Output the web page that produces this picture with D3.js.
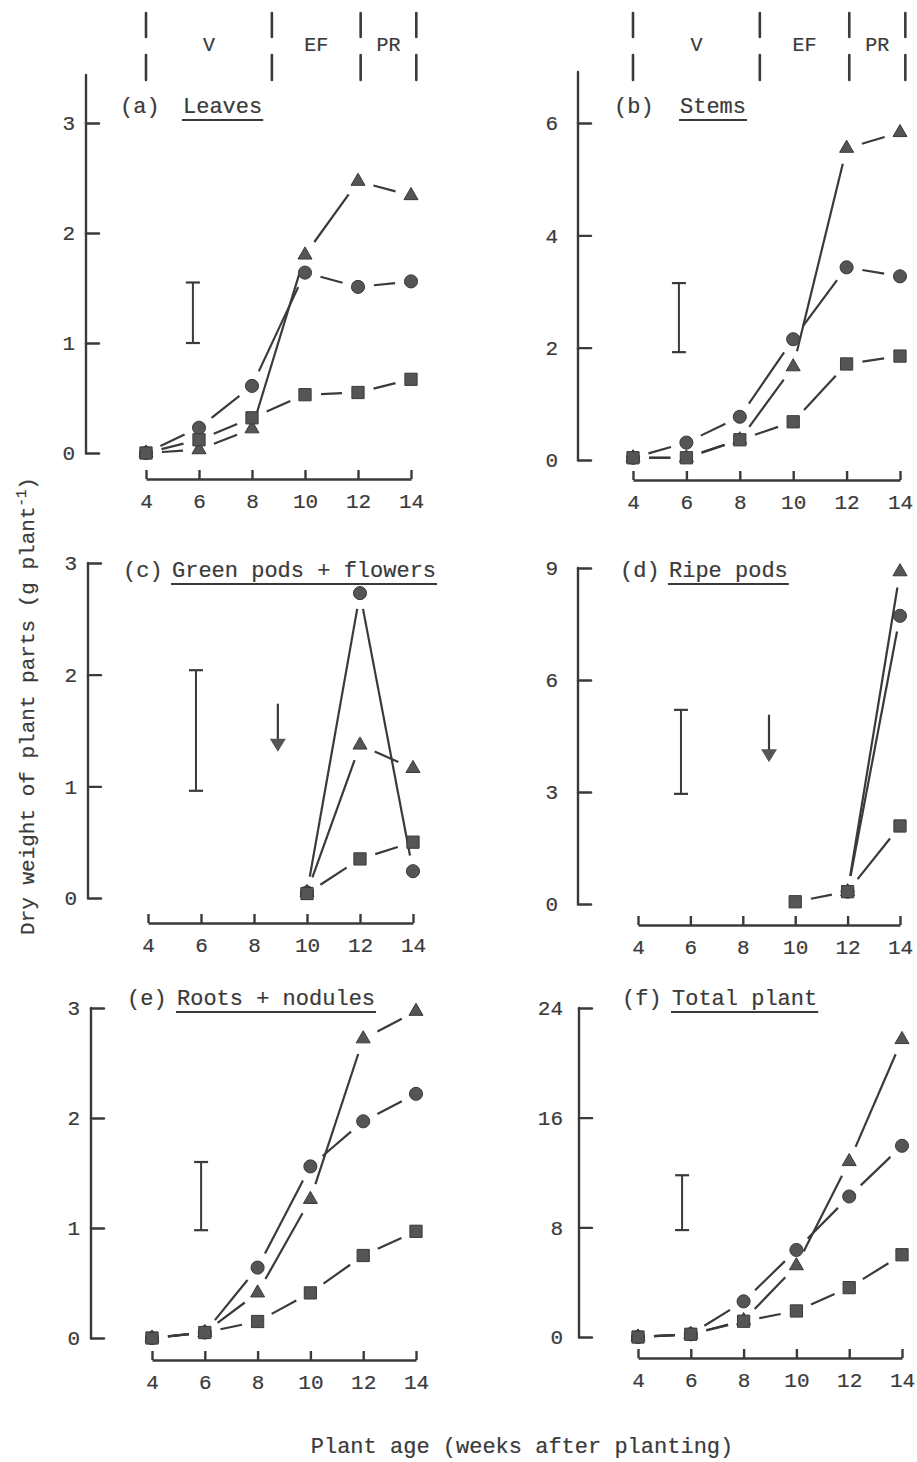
<!DOCTYPE html>
<html>
<head>
<meta charset="utf-8">
<script src="https://cdn.jsdelivr.net/npm/d3@7"></script>
<style>
  html, body { margin: 0; padding: 0; background: #fff; }
  svg text {
    font-family: "Liberation Mono", "DejaVu Sans Mono", monospace;
    fill: #3a3a3a;
    stroke: #3a3a3a;
    stroke-width: 0.2;
  }
</style>
</head>
<body>
<svg id="chart" width="917" height="1462"></svg>
<script>
// ---- data ----
const weeks = [4, 6, 8, 10, 12, 14];
const weekTicks = [4, 6, 8, 10, 12, 14];

// growth phases shown above panels (a) and (b)
const phaseNames = ["V", "EF", "PR"];
const phaseBounds = [4, 8.75, 12.1, 14.2];

// (a) Leaves
const leavesTri  = [0, 0.03, 0.22, 1.80, 2.47, 2.34];
const leavesCirc = [0, 0.23, 0.61, 1.64, 1.51, 1.56];
const leavesSq   = [0, 0.12, 0.32, 0.53, 0.55, 0.67];

// (b) Stems
const stemsTri  = [0.04, 0.04, 0.36, 1.66, 5.55, 5.83];
const stemsCirc = [0.04, 0.31, 0.77, 2.15, 3.43, 3.27];
const stemsSq   = [0.04, 0.04, 0.36, 0.68, 1.71, 1.85];

// (c) Green pods + flowers
const greenTri  = [null, null, null, 0.05, 1.37, 1.16];
const greenCirc = [null, null, null, 0.05, 2.73, 0.24];
const greenSq   = [null, null, null, 0.04, 0.35, 0.50];

// (d) Ripe pods
const ripeTri  = [null, null, null, null, 0.33, 8.90];
const ripeCirc = [null, null, null, null, 0.33, 7.72];
const ripeSq   = [null, null, null, 0.06, 0.33, 2.09];

// (e) Roots + nodules
const rootsTri  = [0, 0.05, 0.41, 1.26, 2.72, 2.97];
const rootsCirc = [0, 0.05, 0.64, 1.56, 1.97, 2.22];
const rootsSq   = [0, 0.05, 0.15, 0.41, 0.75, 0.97];

// (f) Total plant
const totalTri  = [0, 0.2, 1.2, 5.2, 12.8, 21.7];
const totalCirc = [0, 0.2, 2.6, 6.35, 10.25, 13.95];
const totalSq   = [0, 0.2, 1.15, 1.9, 3.6, 6.0];

// y ticks per panel
const leavesTicks = [0, 1, 2, 3];
const stemsTicks  = [0, 2, 4, 6];
const greenTicks  = [0, 1, 2, 3];
const ripeTicks   = [0, 3, 6, 9];
const rootsTicks  = [0, 1, 2, 3];
const totalTicks  = [0, 8, 16, 24];

// LSD bars [week position, low, high]
const leavesLsd = [5.77, 1.0, 1.55];
const stemsLsd  = [5.72, 1.92, 3.15];
const greenLsd  = [5.81, 0.96, 2.04];
const ripeLsd   = [5.64, 2.95, 5.2];
const rootsLsd  = [5.86, 0.98, 1.6];
const totalLsd  = [5.67, 7.8, 11.8];

// arrows [week, from, to]
const greenArrow = [8.9, 1.74, 1.31];
const ripeArrow  = [9.0, 5.07, 3.8];

// ---- layout ----
const ink = "#3a3a3a";
const markFill = "#555";

const panels = [
  { tag: "(a)", name: "Leaves", tri: leavesTri, circ: leavesCirc, sq: leavesSq, ticks: leavesTicks, lsd: leavesLsd,
    phases: true, pos: { ax: 86, y0: 453, yTop: 123, top: 75, xy: 479, x4: 146, x14: 411, pad: 11, tagX: 120, nameX: 183, base: 113 } },
  { tag: "(b)", name: "Stems", tri: stemsTri, circ: stemsCirc, sq: stemsSq, ticks: stemsTicks, lsd: stemsLsd,
    phases: true, pos: { ax: 578, y0: 460, yTop: 123, top: 72, xy: 480, x4: 633, x14: 900, pad: 20, tagX: 614, nameX: 680, base: 113 } },
  { tag: "(c)", name: "Green pods + flowers", tri: greenTri, circ: greenCirc, sq: greenSq, ticks: greenTicks, lsd: greenLsd,
    arrow: greenArrow, pos: { ax: 88, y0: 898, yTop: 563, top: 563, xy: 923, x4: 148, x14: 413, pad: 11, tagX: 123, nameX: 172, base: 577 } },
  { tag: "(d)", name: "Ripe pods", tri: ripeTri, circ: ripeCirc, sq: ripeSq, ticks: ripeTicks, lsd: ripeLsd,
    arrow: ripeArrow, pos: { ax: 578, y0: 904, yTop: 568, top: 568, xy: 925, x4: 638, x14: 900, pad: 20, tagX: 620, nameX: 669, base: 577 } },
  { tag: "(e)", name: "Roots + nodules", tri: rootsTri, circ: rootsCirc, sq: rootsSq, ticks: rootsTicks, lsd: rootsLsd,
    pos: { ax: 91, y0: 1338, yTop: 1008, top: 1008, xy: 1360, x4: 152, x14: 416, pad: 11, tagX: 127, nameX: 177, base: 1005 } },
  { tag: "(f)", name: "Total plant", tri: totalTri, circ: totalCirc, sq: totalSq, ticks: totalTicks, lsd: totalLsd,
    pos: { ax: 579, y0: 1337, yTop: 1008, top: 1008, xy: 1358, x4: 638, x14: 902, pad: 16, tagX: 622, nameX: 672, base: 1005 } },
];

const svg = d3.select("#chart");

panels.forEach(drawPanel);

// axis titles
svg.append("text")
  .attr("transform", "translate(34,706) rotate(-90)")
  .attr("text-anchor", "middle")
  .attr("font-size", 21)
  .text("Dry weight of plant parts (g plant")
  .call(t => {
    t.append("tspan").attr("font-size", 14).attr("dy", -8).text("-1");
    t.append("tspan").attr("dy", 8).text(")");
  });

svg.append("text")
  .attr("x", 522)
  .attr("y", 1453)
  .attr("text-anchor", "middle")
  .attr("font-size", 22)
  .text("Plant age (weeks after planting)");

/**
 * one sub-plot
 */
function drawPanel(p) {
  const L = p.pos;
  const yMax = d3.max(p.ticks);
  const x = d3.scaleLinear().domain([4, 14]).range([L.x4, L.x14]);
  const y = d3.scaleLinear().domain([0, yMax]).range([L.y0, L.yTop]);
  const g = svg.append("g");

  // y axis
  g.append("line")
    .attr("x1", L.ax).attr("x2", L.ax)
    .attr("y1", L.top).attr("y2", L.y0)
    .attr("stroke", ink).attr("stroke-width", 2.4).attr("stroke-linecap", "round");

  const gy = g.append("g")
    .attr("transform", `translate(${L.ax},0)`)
    .call(d3.axisLeft(y).tickValues(p.ticks).tickFormat(d3.format("d"))
      .tickSizeInner(-13).tickSizeOuter(0).tickPadding(L.pad));
  gy.select(".domain").remove();
  gy.selectAll(".tick line").attr("stroke", ink).attr("stroke-width", 2.4).attr("stroke-linecap", "round");
  gy.selectAll(".tick text").attr("font-size", 21);

  // x axis
  const gx = g.append("g")
    .attr("transform", `translate(0,${L.xy})`)
    .call(d3.axisBottom(x).tickValues(weekTicks).tickFormat(d3.format("d"))
      .tickSizeInner(-9).tickSizeOuter(0).tickPadding(14));
  gx.select(".domain").attr("stroke", ink).attr("stroke-width", 2.4);
  gx.selectAll(".tick line").attr("stroke", ink).attr("stroke-width", 2.4);
  gx.selectAll(".tick text").attr("font-size", 21);

  // title
  g.append("text").attr("x", L.tagX).attr("y", L.base).attr("font-size", 22).text(p.tag);
  const nm = g.append("text").attr("x", L.nameX).attr("y", L.base).attr("font-size", 22).text(p.name);
  const bb = nm.node().getBBox();
  g.append("line")
    .attr("x1", bb.x - 1).attr("x2", bb.x + bb.width + 1)
    .attr("y1", L.base + 7).attr("y2", L.base + 7)
    .attr("stroke", ink).attr("stroke-width", 2);

  // phase brackets
  if (p.phases) {
    phaseBounds.forEach(w => {
      [[13, 37], [55, 80]].forEach(([a, b]) => {
        g.append("line")
          .attr("x1", x(w)).attr("x2", x(w))
          .attr("y1", a).attr("y2", b)
          .attr("stroke", ink).attr("stroke-width", 2.6).attr("stroke-linecap", "round");
      });
    });
    phaseNames.forEach((n, i) => {
      g.append("text")
        .attr("x", (x(phaseBounds[i]) + x(phaseBounds[i + 1])) / 2)
        .attr("y", 51)
        .attr("text-anchor", "middle")
        .attr("font-size", 20)
        .text(n);
    });
  }

  // LSD bar
  const [lx, lo, hi] = p.lsd;
  g.append("line")
    .attr("x1", x(lx)).attr("x2", x(lx)).attr("y1", y(lo)).attr("y2", y(hi))
    .attr("stroke", ink).attr("stroke-width", 2);
  [lo, hi].forEach(v => {
    g.append("line")
      .attr("x1", x(lx) - 7).attr("x2", x(lx) + 7).attr("y1", y(v)).attr("y2", y(v))
      .attr("stroke", ink).attr("stroke-width", 2.2);
  });

  // arrow
  if (p.arrow) {
    const [ax, from, to] = p.arrow;
    g.append("line")
      .attr("x1", x(ax)).attr("x2", x(ax)).attr("y1", y(from)).attr("y2", y(to) - 8)
      .attr("stroke", ink).attr("stroke-width", 2.2);
    g.append("path")
      .attr("d", `M${x(ax) - 8},${y(to) - 13} L${x(ax) + 8},${y(to) - 13} L${x(ax)},${y(to)} Z`)
      .attr("fill", markFill);
  }

  // series: triangle, circle, square
  const series = [
    { vals: p.tri, sym: d3.symbolTriangle, size: 85 },
    { vals: p.circ, sym: d3.symbolCircle, size: 135 },
    { vals: p.sq, sym: d3.symbolSquare, size: 150 },
  ];

  // connecting lines, broken short of each marker
  series.forEach(s => {
    const pts = weeks.map((w, i) => [w, s.vals[i]]).filter(d => d[1] != null);
    const gap = 16;
    for (let i = 0; i < pts.length - 1; i++) {
      const x1 = x(pts[i][0]), y1 = y(pts[i][1]);
      const x2 = x(pts[i + 1][0]), y2 = y(pts[i + 1][1]);
      const len = Math.hypot(x2 - x1, y2 - y1);
      if (len < gap * 2 + 2) continue;
      const ux = (x2 - x1) / len, uy = (y2 - y1) / len;
      g.append("line")
        .attr("x1", x1 + ux * gap).attr("y1", y1 + uy * gap)
        .attr("x2", x2 - ux * gap).attr("y2", y2 - uy * gap)
        .attr("stroke", ink).attr("stroke-width", 2.2);
    }
  });

  series.forEach(s => {
    const pts = weeks.map((w, i) => [w, s.vals[i]]).filter(d => d[1] != null);
    g.selectAll(null)
      .data(pts)
      .join("path")
      .attr("transform", d => `translate(${x(d[0])},${y(d[1])})`)
      .attr("d", d3.symbol().type(s.sym).size(s.size))
      .attr("fill", markFill)
      .attr("stroke", "#3a3a3a")
      .attr("stroke-width", 1);
  });
}
</script>
</body>
</html>
